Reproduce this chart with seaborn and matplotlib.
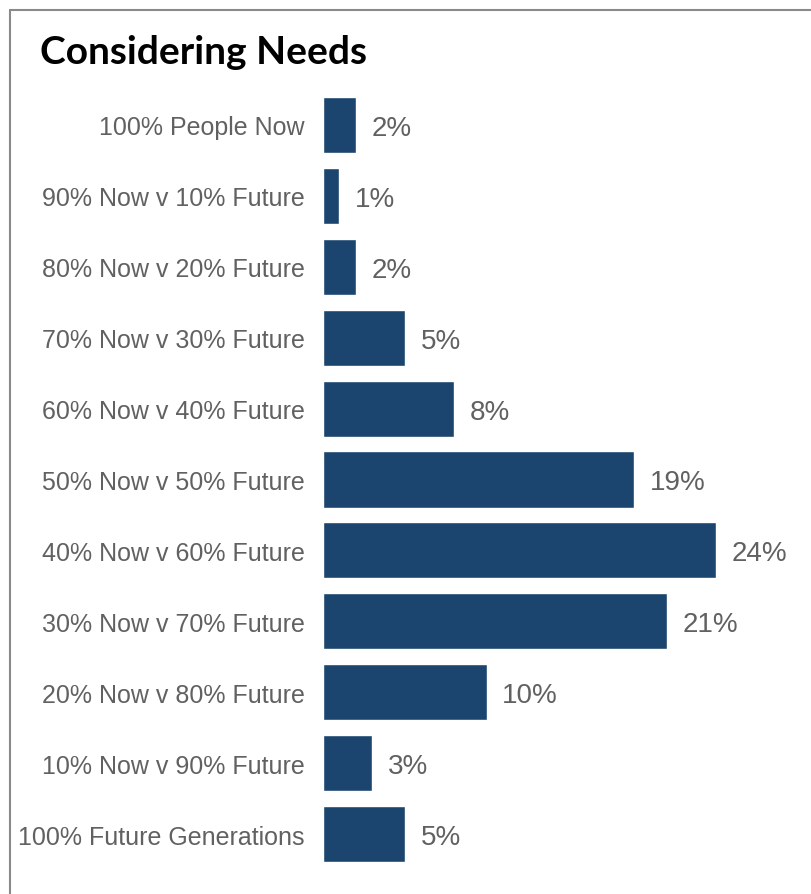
import matplotlib
matplotlib.use("Agg")
import matplotlib.pyplot as plt
from matplotlib.lines import Line2D
import seaborn as sns
import pandas as pd

categories = [
    "100% People Now",
    "90% Now v 10% Future",
    "80% Now v 20% Future",
    "70% Now v 30% Future",
    "60% Now v 40% Future",
    "50% Now v 50% Future",
    "40% Now v 60% Future",
    "30% Now v 70% Future",
    "20% Now v 80% Future",
    "10% Now v 90% Future",
    "100% Future Generations",
]
values = [2, 1, 2, 5, 8, 19, 24, 21, 10, 3, 5]

df = pd.DataFrame({"option": categories, "share": values})

sns.set_theme(style="white")
plt.rcParams["font.family"] = ["Liberation Sans", "DejaVu Sans"]

W, H = 811, 895
fig = plt.figure(figsize=(W / 100, H / 100), dpi=100)
fig.patch.set_facecolor("white")

ax = fig.add_axes([323 / W, 1 - 870.5 / H, 393 / W, 780 / H])
sns.barplot(data=df, y="option", x="share", orient="h", color="#1b456e",
            saturation=1, width=0.79, ax=ax)
ax.set_xlim(0, 24)
ax.set_ylim(10.5, -0.5)
ax.set_xlabel("")
ax.set_ylabel("")
ax.set_xticks([])
for s in ax.spines.values():
    s.set_visible(False)
ax.tick_params(axis="y", length=0, pad=13, labelsize=18, labelcolor="#616161")

for i, v in enumerate(values):
    ax.text(v + 0.95, i, f"{v}%", va="center_baseline", ha="left", fontsize=20,
            color="#616161", clip_on=False)

fig.text(40 / W, 1 - 53 / H, "Considering Needs", fontsize=28, fontweight="bold",
         family=["Lato", "DejaVu Sans"], color="black", va="center", ha="left")

# frame edges along the top and left
fig.add_artist(Line2D([9.5 / W, 9.5 / W], [1 - 11 / H, 0], transform=fig.transFigure,
                      color="#8a8a8a", lw=1.5))
fig.add_artist(Line2D([9.5 / W, 1], [1 - 11 / H, 1 - 11 / H], transform=fig.transFigure,
                      color="#8a8a8a", lw=1.5))

fig.savefig("out.png", dpi=100)
